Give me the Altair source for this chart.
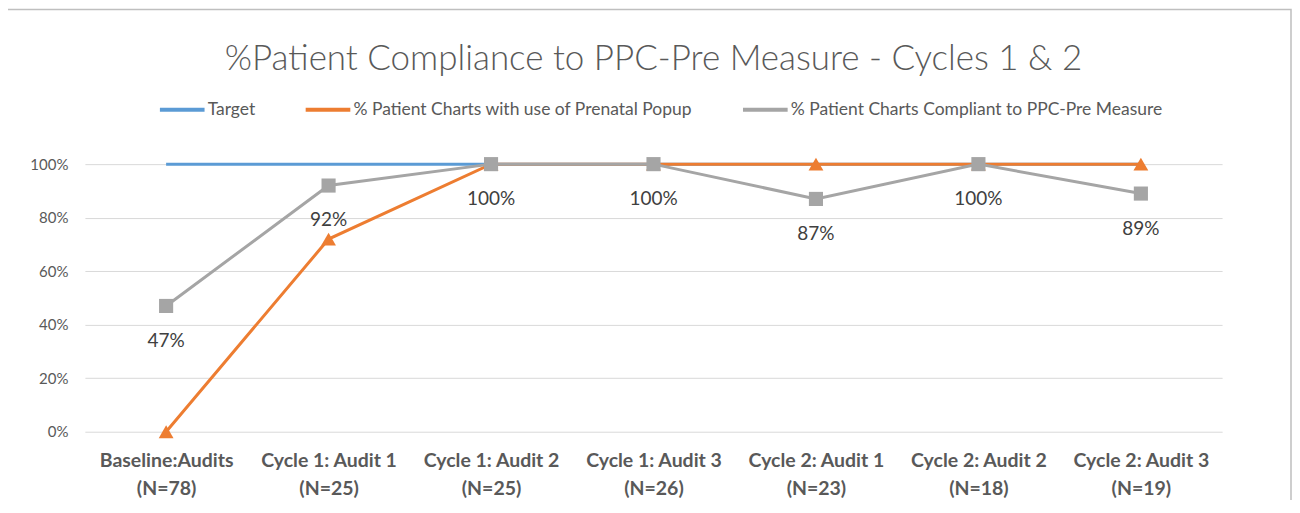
import altair as alt
import pandas as pd

categories = ["Baseline:Audits\n(N=78)", "Cycle 1: Audit 1\n(N=25)", "Cycle 1: Audit 2\n(N=25)",
              "Cycle 1: Audit 3\n(N=26)", "Cycle 2: Audit 1\n(N=23)", "Cycle 2: Audit 2\n(N=18)",
              "Cycle 2: Audit 3\n(N=19)"]
target = [1.0, 1.0, 1.0, 1.0, 1.0, 1.0, 1.0]
popup = [0.0, 0.72, 1.0, 1.0, 1.0, 1.0, 1.0]
compliant = [0.47, 0.92, 1.0, 1.0, 0.87, 1.0, 0.89]

s_target = "Target"
s_popup = "% Patient Charts with use of Prenatal Popup"
s_comp = "% Patient Charts Compliant to PPC-Pre Measure"
series = [s_target, s_popup, s_comp]
colors = ["#5B9BD5", "#ED7D31", "#A5A5A5"]

rows = []
for name, vals in zip(series, [target, popup, compliant]):
    for c, v in zip(categories, vals):
        rows.append({"cat": c, "val": v, "series": name})
df = pd.DataFrame(rows)

FONT = "Lato"
W, H = 1139, 268

x = alt.X("cat:N", sort=categories, title=None, scale=alt.Scale(domain=categories),
          axis=alt.Axis(labelExpr="split(datum.label, '\\n')", labelAngle=0, labelFontWeight="bold",
                        labelFontSize=19.5, labelColor="#595959", labelFont=FONT, ticks=False,
                        domain=False, labelPadding=20, labelLineHeight=28, grid=False, labelLimit=0))
y = alt.Y("val:Q", title=None, scale=alt.Scale(domain=[0, 1]),
          axis=alt.Axis(format=".0%", values=[0, 0.2, 0.4, 0.6, 0.8, 1.0], labelFontSize=15,
                        labelColor="#595959", labelFont=FONT, ticks=False, domain=False,
                        labelPadding=17, grid=True, gridColor="#D9D9D9", gridWidth=1))
color = alt.Color("series:N", scale=alt.Scale(domain=series, range=colors),
                  legend=alt.Legend(title=None, orient="none", direction="horizontal",
                                    legendX=73, legendY=-79, symbolType="stroke",
                                    symbolStrokeWidth=4, symbolSize=2000,
                                    labelFont=FONT, labelFontSize=17.5, labelColor="#595959",
                                    columnPadding=42, labelOffset=1, labelLimit=0))

line_t = alt.Chart(df[df.series == s_target]).mark_line(strokeWidth=3).encode(x=x, y=y, color=color)
line_p = alt.Chart(df[df.series == s_popup]).mark_line(strokeWidth=3).encode(x=x, y=y, color=color)
pts_p = alt.Chart(df[df.series == s_popup]).mark_point(shape="triangle-up", filled=True, size=220, opacity=1).encode(
    x=x, y=y, color=color)
line_c = alt.Chart(df[df.series == s_comp]).mark_line(strokeWidth=3).encode(x=x, y=y, color=color)
pts_c = alt.Chart(df[df.series == s_comp]).mark_point(shape="square", filled=True, size=200, opacity=1).encode(
    x=x, y=y, color=color)
labels = alt.Chart(df[df.series == s_comp]).mark_text(dy=35, fontSize=19, color="#404040", font=FONT).encode(
    x=x, y=y, text=alt.Text("val:Q", format=".0%"))

frame = alt.Chart(pd.DataFrame({"k": [0]})).mark_rect(fill=None, stroke="#BFBFBF", strokeWidth=1.5).encode(
    x=alt.value(-79), x2=alt.value(1208), y=alt.value(-155), y2=alt.value(400))

chart = alt.layer(frame, line_t, line_p, pts_p, line_c, pts_c, labels).properties(
    width=W, height=H,
    title=alt.TitleParams("%Patient Compliance to PPC-Pre Measure - Cycles 1 & 2", font=FONT, fontSize=35,
                          fontWeight=300, color="#595959", anchor="middle", offset=-68),
    autosize=alt.AutoSizeParams(type="none"),
    padding={"left": 77, "top": 156, "right": 70, "bottom": 68},
).configure_view(stroke=None)

chart.save("out.html", embed_options={"renderer": "svg", "actions": False})
